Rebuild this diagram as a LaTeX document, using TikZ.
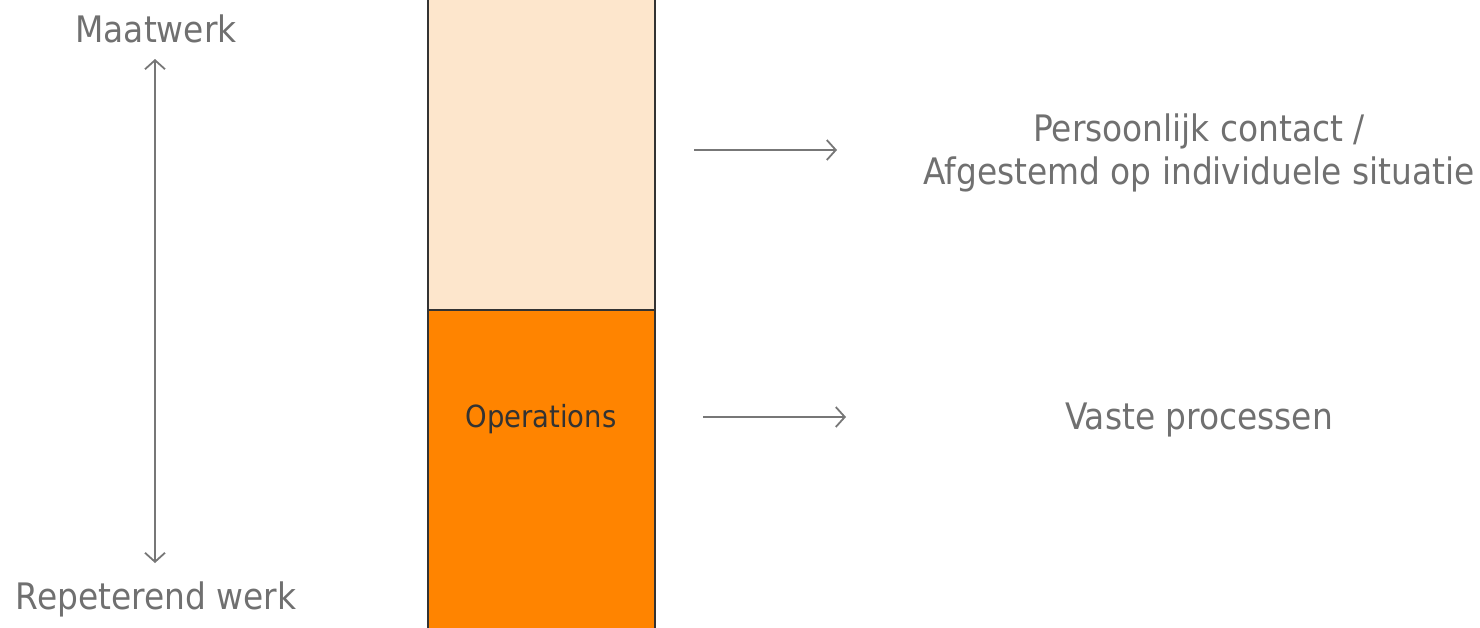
\documentclass[tikz,border=0pt]{standalone}
\usepackage{fontspec}
\setmainfont{DejaVu Sans Condensed}
\usetikzlibrary{arrows.meta}
\definecolor{txtgray}{HTML}{707070}
\definecolor{lngray}{HTML}{777777}
\definecolor{peach}{HTML}{FDE6CC}
\definecolor{orng}{HTML}{FF8400}
\definecolor{edge}{HTML}{333333}
\tikzset{
  lbl/.style={text=txtgray, font=\fontsize{36.5}{43}\selectfont, inner sep=0pt, align=center},
  conn/.style={draw=lngray, line width=1.8pt, -{Straight Barb[length=9pt,width=20pt,line width=1.8pt]}},
  dconn/.style={draw=lngray, line width=1.8pt, {Straight Barb[length=9pt,width=20pt,line width=1.8pt]}-{Straight Barb[length=9pt,width=20pt,line width=1.8pt]}},
  bar/.style={draw=edge, line width=1.8pt}
}
\begin{document}
\begin{tikzpicture}[x=1pt,y=-1pt]
\useasboundingbox (0,0) rectangle (1480,627);
\begin{scope}
\clip (0,0) rectangle (1480,627);
\fill[peach] (428,-5) rectangle (655,310);
\fill[orng] (428,310) rectangle (655,632);
\draw[bar] (428,-5) -- (428,632);
\draw[bar] (655,-5) -- (655,632);
\draw[bar] (428,310) -- (655,310);
\end{scope}
\node[text=edge, font=\fontsize{30.5}{36}\selectfont, inner sep=0pt] (ops) at (541,419) {Operations};
\node[lbl] (maat) at (156,29) {Maatwerk};
\node[lbl] (rep) at (156,599) {Repeterend werk};
\node[lbl] (pers) at (1199,153) {Persoonlijk contact /\\Afgestemd op individuele situatie};
\node[lbl] (vast) at (1199,420) {Vaste processen};
\coordinate (vtop) at (155,59);
\coordinate (vbot) at (155,563);
\draw[dconn] (vtop) -- (vbot);
\coordinate (a1s) at (694,150);
\coordinate (a1e) at (837,150);
\draw[conn] (a1s) -- (a1e);
\coordinate (a2s) at (703,417);
\coordinate (a2e) at (846,417);
\draw[conn] (a2s) -- (a2e);
\end{tikzpicture}
\end{document}
